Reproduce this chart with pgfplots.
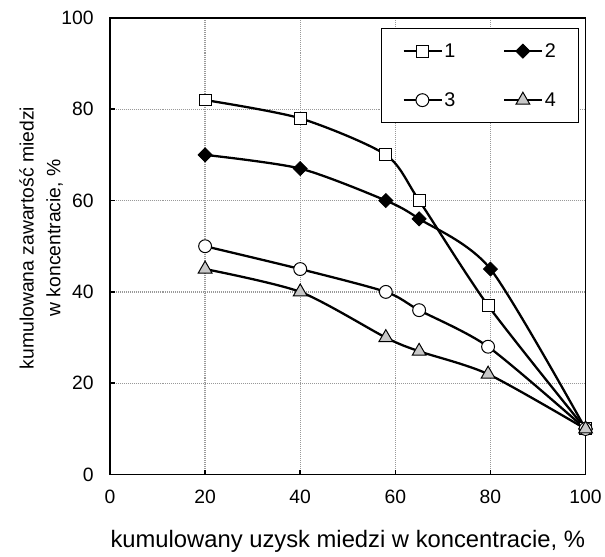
\documentclass[border=0pt]{standalone}
\usepackage{fontspec}
\setmainfont{Liberation Sans}
\usepackage{pgfplots}
\pgfplotsset{compat=1.18}
\definecolor{trigray}{RGB}{200,200,200}
\begin{document}
\begin{tikzpicture}
\begin{axis}[
  scale only axis,
  width=480pt, height=461pt,
  xmin=0, xmax=100, ymin=0, ymax=100,
  xtick={0,20,...,100}, ytick={0,20,...,100},
  xtick pos=bottom, ytick pos=left,
  tick align=inside,
  major tick length=5pt,
  every tick/.style={black, line width=1.6pt},
  axis line style={black, line width=1.8pt},
  grid=major,
  grid style={gray!80, line width=1.3pt, dash pattern=on 1pt off 1pt},
  /pgf/number format/assume math mode=true,
  tick label style={font=\fontsize{19.5}{22}\selectfont},
  xticklabel style={yshift=-12pt},
  yticklabel style={xshift=-13pt},
  xlabel={kumulowany uzysk miedzi w koncentracie, \%},
  xlabel style={font=\fontsize{24}{26}\selectfont, at={(axis description cs:0.5,-0.1605)}, anchor=base},
  ylabel={kumulowana zawartość miedzi\\w koncentracie, \%},
  ylabel style={font=\fontsize{19.5}{27}\selectfont, align=center, at={(axis description cs:-0.145,0.518)}, anchor=center},
  legend columns=2,
  legend cell align=left,
  legend style={at={(axis description cs:0.987,0.978)}, anchor=north east,
    draw=black, line width=1.5pt, fill=white,
    font=\fontsize{20}{22}\selectfont,
    inner xsep=21pt, inner ysep=13pt,
    /tikz/every even column/.append style={column sep=46pt},
    /tikz/row sep=30pt},
  legend image code/.code={\draw[mark repeat=2,mark phase=2,#1] plot coordinates {(0pt,0pt)(19pt,0pt)(38pt,0pt)};},
  every axis plot/.append style={black, line width=2.3pt, smooth, tension=0.45},
]
\addplot[mark=square*, mark size=6pt, mark options={fill=white, draw=black, line width=1pt}]
  coordinates {(20,82) (40,78) (58,70) (65,60) (79.5,37) (100,10)};
\addlegendentry{1}
\addplot[mark=square*, mark size=5pt, mark options={fill=black, draw=black, line width=0.8pt, rotate=45}]
  coordinates {(20,70) (40,67) (58,60) (65,56) (80,45) (100,10)};
\addlegendentry{2}
\addplot[mark=*, mark size=6.5pt, mark options={fill=white, draw=black, line width=1pt}]
  coordinates {(20,50) (40,45) (58,40) (65,36) (79.5,28) (100,10)};
\addlegendentry{3}
\addplot[mark=triangle*, mark size=8pt, mark options={fill=trigray, draw=black, line width=1pt}]
  coordinates {(20,45) (40,40) (58,30) (65,27) (79.5,22) (100,10)};
\addlegendentry{4}
\end{axis}
\path (current axis.south west) ++(-111pt,-80pt) rectangle ++(605pt,559pt);
\end{tikzpicture}
\end{document}
